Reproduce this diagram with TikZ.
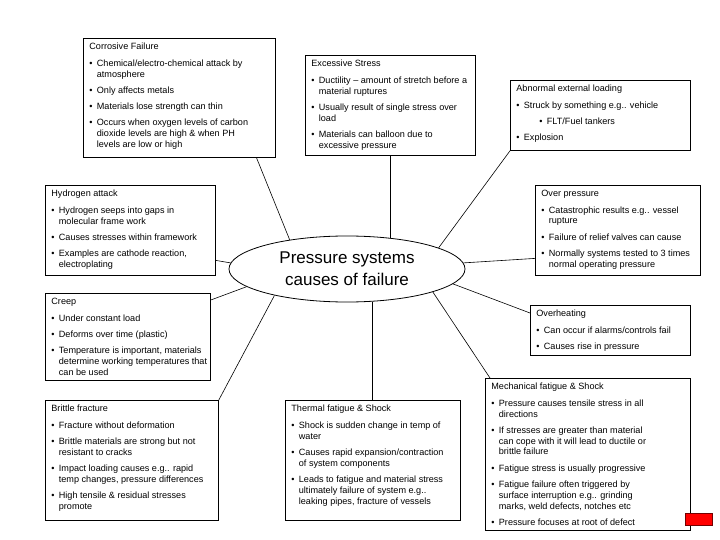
\documentclass[tikz,border=0pt]{standalone}
\usepackage{fontspec}
\setmainfont{Liberation Sans}
\usetikzlibrary{shapes.geometric,calc}
\newcommand{\boxfont}{\fontsize{9.1bp}{10.8bp}\selectfont}
\newcommand{\itm}[1]{\par\vspace{5.5bp}\noindent\hangindent=7.5bp\hangafter=1\makebox[7.5bp][l]{\textbullet}{\def\\{\newline}#1}\par}
\newcommand{\boxtext}[3]{\parbox[c][#2][t]{#1}{\setlength{\parskip}{0pt}\raggedright\setlength{\rightskip}{-6bp plus 1fil}\boxfont #3}}
\tikzset{
  box/.style={draw=black, line width=0.8bp, fill=white, anchor=north west,
    inner xsep=6bp, inner ysep=5bp},
  hub/.style={ellipse, draw=black, line width=0.8bp, minimum width=236bp,
    minimum height=66bp, inner sep=0pt, align=center,
    font=\fontsize{17bp}{22bp}\selectfont},
  link/.style={draw=black, line width=0.6bp},
  redbox/.style={fill=red, draw=red!45!black, line width=0.6bp,
    minimum width=27bp, minimum height=12bp, inner sep=0pt}
}
\begin{document}
\begin{tikzpicture}[x=1bp,y=-1bp]
\useasboundingbox (0,0) rectangle (720,540);

\node[hub] (hub) at (347,269) {Pressure systems\\causes of failure};

\node[box] (corr) at (83,38) {\boxtext{180bp}{109bp}{Corrosive Failure
  \itm{Chemical/electro-chemical attack by\\atmosphere}
  \itm{Only affects metals}
  \itm{Materials lose strength can thin}
  \itm{Occurs when oxygen levels of carbon\\dioxide levels are high \& when PH\\levels are low or high}}};

\node[box] (excess) at (305,55) {\boxtext{158bp}{90bp}{Excessive Stress
  \itm{Ductility -- amount of stretch before a\\material ruptures}
  \itm{Usually result of single stress over\\load}
  \itm{Materials can balloon due to\\excessive pressure}}};

\node[box] (abn) at (510,80) {\boxtext{168bp}{60bp}{Abnormal external loading
  \itm{Struck by something e.g.. vehicle}
  {\par\vspace{5.5bp}\noindent\hspace*{23bp}\makebox[7.5bp][l]{\textbullet}FLT/Fuel tankers\par}
  \itm{Explosion}}};

\node[box] (hyd) at (45,185) {\boxtext{158bp}{80bp}{Hydrogen attack
  \itm{Hydrogen seeps into gaps in\\molecular frame work}
  \itm{Causes stresses within framework}
  \itm{Examples are cathode reaction,\\electroplating}}};

\node[box] (ovp) at (535,185) {\boxtext{153bp}{80bp}{Over pressure
  \itm{Catastrophic results e.g.. vessel\\rupture}
  \itm{Failure of relief valves can cause}
  \itm{Normally systems tested to 3 times\\normal operating pressure}}};

\node[box] (creep) at (45,293) {\boxtext{153bp}{77bp}{Creep
  \itm{Under constant load}
  \itm{Deforms over time (plastic)}
  \itm{Temperature is important, materials\\determine working temperatures that\\can be used}}};

\node[box] (oh) at (530,305) {\boxtext{148bp}{40bp}{Overheating
  \itm{Can occur if alarms/controls fail}
  \itm{Causes rise in pressure}}};

\node[box] (mech) at (485,378) {\boxtext{193bp}{142bp}{Mechanical fatigue \& Shock
  \itm{Pressure causes tensile stress in all\\directions}
  \itm{If stresses are greater than material\\can cope with it will lead to ductile or\\brittle failure}
  \itm{Fatigue stress is usually progressive}
  \itm{Fatigue failure often triggered by\\surface interruption e.g.. grinding\\marks, weld defects, notches etc}
  \itm{Pressure focuses at root of defect}}};

\node[box] (brit) at (45,400) {\boxtext{161bp}{110bp}{Brittle fracture
  \itm{Fracture without deformation}
  \itm{Brittle materials are strong but not\\resistant to cracks}
  \itm{Impact loading causes e.g.. rapid\\temp changes, pressure differences}
  \itm{High tensile \& residual stresses\\promote}}};

\node[box] (therm) at (285,400) {\boxtext{163bp}{110bp}{Thermal fatigue \& Shock
  \itm{Shock is sudden change in temp of\\water}
  \itm{Causes rapid expansion/contraction\\of system components}
  \itm{Leads to fatigue and material stress\\ultimately failure of system e.g..\\leaking pipes, fracture of vessels}}};

\node[redbox] (flag) at (698.5,519) {};

\draw[link] ($(corr.south west)!0.9!(corr.south east)$) -- (hub.153);
\draw[link] (excess.south) -- (excess.south |- hub.35);
\draw[link] (abn.south west) -- (hub.13);
\draw[link] ($(hyd.east)+(0,30)$) -- (hub.177);
\draw[link] ($(ovp.west)+(0,28)$) -- (hub.3);
\draw[link] ($(creep.north east)+(0,7)$) -- (hub.190);
\draw[link] ($(oh.north west)+(0,8)$) -- (hub.-8);
\draw[link] (hub.-15) -- ($(mech.north west)+(5,0)$);
\draw[link] (brit.north east) -- (hub.200);
\draw[link] (hub.-52) -- (hub.-52 |- therm.north);
\end{tikzpicture}
\end{document}
